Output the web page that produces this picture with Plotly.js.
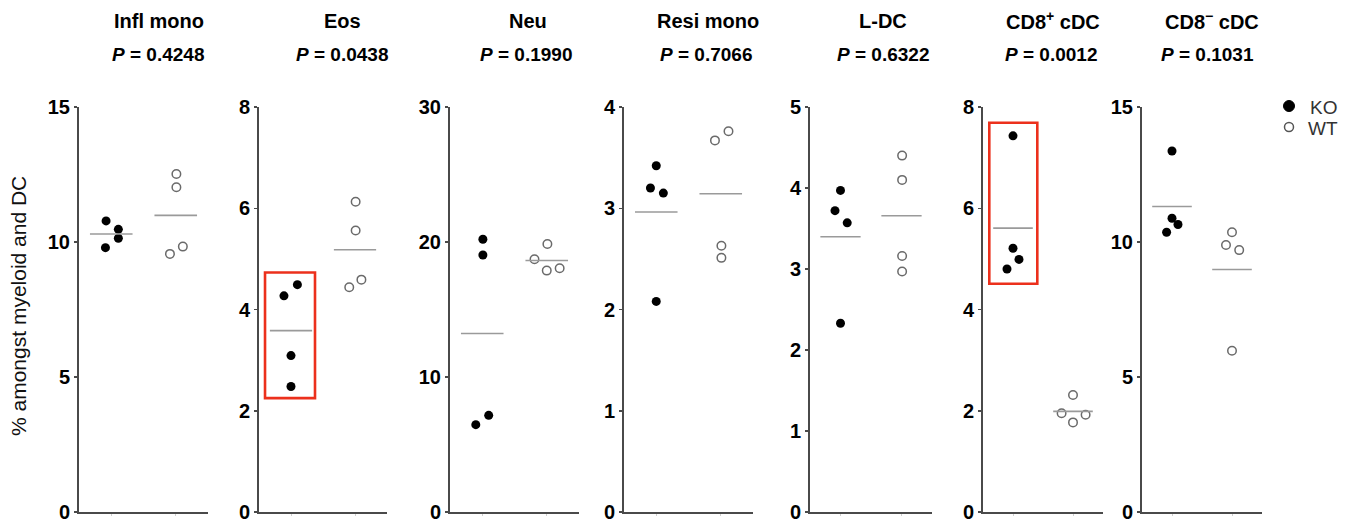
<!DOCTYPE html>
<html>
<head>
<meta charset="utf-8">
<script src="https://cdn.plot.ly/plotly-3.0.1.min.js"></script>
<style>html,body{margin:0;padding:0;background:#fff;}#chart{width:1355px;height:526px;}</style>
</head>
<body>
<div id="chart"></div>
<script>
// ---- data ----
const cellTypes = ['Infl mono', 'Eos', 'Neu', 'Resi mono', 'L-DC', 'CD8<sup>+</sup> cDC', 'CD8<sup>\u2212</sup> cDC'];
const pValues = ['0.4248', '0.0438', '0.1990', '0.7066', '0.6322', '0.0012', '0.1031'];
const groups = ['KO', 'WT'];

const inflKO = [10.78, 10.47, 10.14, 9.79];
const inflWT = [12.52, 12.03, 9.83, 9.56];
const eosKO = [4.49, 4.27, 3.09, 2.48];
const eosWT = [6.13, 5.56, 4.59, 4.44];
const neuKO = [20.2, 19.04, 6.47, 7.16];
const neuWT = [19.85, 18.72, 17.88, 18.05];
const resiKO = [3.42, 3.20, 3.15, 2.08];
const resiWT = [3.76, 3.67, 2.63, 2.51];
const ldcKO = [3.97, 3.72, 3.57, 2.33];
const ldcWT = [4.40, 4.10, 3.16, 2.97];
const cd8pKO = [7.43, 5.21, 4.99, 4.80];
const cd8pWT = [2.31, 1.95, 1.92, 1.77];
const cd8mKO = [13.37, 10.88, 10.65, 10.36];
const cd8mWT = [10.36, 9.89, 9.70, 5.97];

// horizontal scatter (jitter) of each dot around its group
const inflKOj = [-0.08, 0.11, 0.11, -0.09], inflWTj = [0.01, 0.01, 0.11, -0.09];
const eosKOj = [0.10, -0.11, 0, 0], eosWTj = [0.01, 0.01, 0.10, -0.09];
const neuKOj = [0.01, 0.01, -0.10, 0.10], neuWTj = [0.01, -0.19, 0.0, 0.20];
const resiKOj = [0, -0.09, 0.11, 0], resiWTj = [0.12, -0.09, 0.01, 0.01];
const ldcKOj = [0, -0.09, 0.11, 0], ldcWTj = [0.01, 0.01, 0.01, 0.01];
const cd8pKOj = [0, 0, 0.10, -0.10], cd8pWTj = [0, -0.19, 0.21, 0];
const cd8mKOj = [0, 0, 0.10, -0.09], cd8mWTj = [0, -0.10, 0.12, 0];

const yMax = [15, 8, 30, 4, 5, 8, 15];
const yStep = [5, 2, 10, 1, 1, 2, 5];

const koSets = [inflKO, eosKO, neuKO, resiKO, ldcKO, cd8pKO, cd8mKO];
const wtSets = [inflWT, eosWT, neuWT, resiWT, ldcWT, cd8pWT, cd8mWT];
const koJit = [inflKOj, eosKOj, neuKOj, resiKOj, ldcKOj, cd8pKOj, cd8mKOj];
const wtJit = [inflWTj, eosWTj, neuWTj, resiWTj, ldcWTj, cd8pWTj, cd8mWTj];

// ---- layout geometry ----
const W = 1355, H = 526;
const px = v => v / W, py = v => 1 - v / H;
const xDom = [[79, 208], [259, 387], [450, 579], [624, 753], [810, 932], [983, 1103], [1142, 1262]];
const titleX = [159, 342, 528, 708, 883, 1053, 1212];
const pX = [158, 342, 526, 706, 883, 1051, 1207];
const yDom = [1 - 512 / H, 1 - 107 / H];

const FONT = 'Liberation Sans, Arial, Helvetica, sans-serif';
const axisCol = '#4a4a4a';
const mean = a => a.reduce((s, v) => s + v, 0) / a.length;

const traces = [];
const layout = {
  width: W, height: H,
  margin: {l: 0, r: 0, t: 0, b: 0},
  paper_bgcolor: '#fff', plot_bgcolor: '#fff',
  showlegend: false,
  annotations: [], shapes: []
};

for (let i = 0; i < 7; i++) {
  const n = i + 1, xa = 'x' + (i ? n : ''), ya = 'y' + (i ? n : '');
  layout['xaxis' + (i ? n : '')] = {
    domain: [px(xDom[i][0]), px(xDom[i][1])], range: [0.5, 2.5], anchor: ya,
    showline: true, linecolor: axisCol, linewidth: 2,
    tickvals: [1, 2], showticklabels: false, ticks: 'outside', ticklen: 2, tickcolor: '#cfcfcf', tickwidth: 1,
    showgrid: false, zeroline: false, fixedrange: true
  };
  layout['yaxis' + (i ? n : '')] = {
    domain: yDom, range: [0, yMax[i]], anchor: xa, dtick: yStep[i], tick0: 0,
    showline: true, linecolor: axisCol, linewidth: 2,
    ticks: 'outside', ticklen: 3, tickwidth: 1.5, tickcolor: axisCol,
    tickfont: {family: FONT, size: 20, color: '#000', weight: 'bold'},
    showgrid: false, zeroline: false, fixedrange: true
  };
  const ko = koSets[i], wt = wtSets[i];
  traces.push({
    type: 'scatter', mode: 'markers', xaxis: xa, yaxis: ya, name: groups[0],
    x: ko.map((v, k) => 1 + koJit[i][k]), y: ko,
    marker: {symbol: 'circle', size: 9, color: '#000'}, cliponaxis: false
  });
  traces.push({
    type: 'scatter', mode: 'markers', xaxis: xa, yaxis: ya, name: groups[1],
    x: wt.map((v, k) => 2 + wtJit[i][k]), y: wt,
    marker: {symbol: 'circle-open', size: 8.5, color: '#6a6a6a', line: {width: 1.5, color: '#6a6a6a'}}, cliponaxis: false
  });
  [ko, wt].forEach((arr, g) => {
    const m = mean(arr);
    traces.push({
      type: 'scatter', mode: 'lines', xaxis: xa, yaxis: ya, hoverinfo: 'skip',
      x: [g + 1 - 0.33, g + 1 + 0.33], y: [m, m],
      line: {color: '#9a9a9a', width: 1.6}
    });
  });
  layout.annotations.push({
    xref: 'paper', yref: 'paper', x: px(titleX[i]), y: py(21), xanchor: 'center', yanchor: 'middle',
    text: '<b>' + cellTypes[i] + '</b>', showarrow: false,
    font: {family: FONT, size: 20, color: '#000'}
  });
  layout.annotations.push({
    xref: 'paper', yref: 'paper', x: px(pX[i]), y: py(55), xanchor: 'center', yanchor: 'middle',
    text: '<b><i>P</i> = ' + pValues[i] + '</b>', showarrow: false,
    font: {family: FONT, size: 19, color: '#000'}
  });
}

// highlight boxes
const red = 'rgb(236,48,28)';
layout.shapes.push({type: 'rect', xref: 'x2', yref: 'y2', x0: 0.594, x1: 1.375, y0: 2.25, y1: 4.73, line: {color: red, width: 2.6}});
layout.shapes.push({type: 'rect', xref: 'x6', yref: 'y6', x0: 0.605, x1: 1.405, y0: 4.51, y1: 7.69, line: {color: red, width: 2.6}});

// y-axis title
layout.annotations.push({
  xref: 'paper', yref: 'paper', x: px(18), y: py(306), xanchor: 'center', yanchor: 'middle',
  text: '% amongst myeloid and DC', textangle: -90, showarrow: false,
  font: {family: FONT, size: 21, color: '#111'}
});

// legend
layout.shapes.push({type: 'circle', xref: 'paper', yref: 'paper', xsizemode: 'pixel', ysizemode: 'pixel',
  xanchor: px(1289), yanchor: py(106), x0: -5.5, x1: 5.5, y0: -5.5, y1: 5.5,
  fillcolor: '#000', line: {color: '#000', width: 1}});
layout.shapes.push({type: 'circle', xref: 'paper', yref: 'paper', xsizemode: 'pixel', ysizemode: 'pixel',
  xanchor: px(1289), yanchor: py(127), x0: -4.5, x1: 4.5, y0: -4.5, y1: 4.5,
  fillcolor: 'rgba(0,0,0,0)', line: {color: '#555', width: 1.5}});
layout.annotations.push({xref: 'paper', yref: 'paper', x: px(1308), y: py(108), xanchor: 'left', yanchor: 'middle',
  text: groups[0], showarrow: false, font: {family: FONT, size: 19, color: '#333'}});
layout.annotations.push({xref: 'paper', yref: 'paper', x: px(1306), y: py(129), xanchor: 'left', yanchor: 'middle',
  text: groups[1], showarrow: false, font: {family: FONT, size: 19, color: '#333'}});

Plotly.newPlot('chart', traces, layout, {displayModeBar: false, staticPlot: true});
</script>
</body>
</html>
